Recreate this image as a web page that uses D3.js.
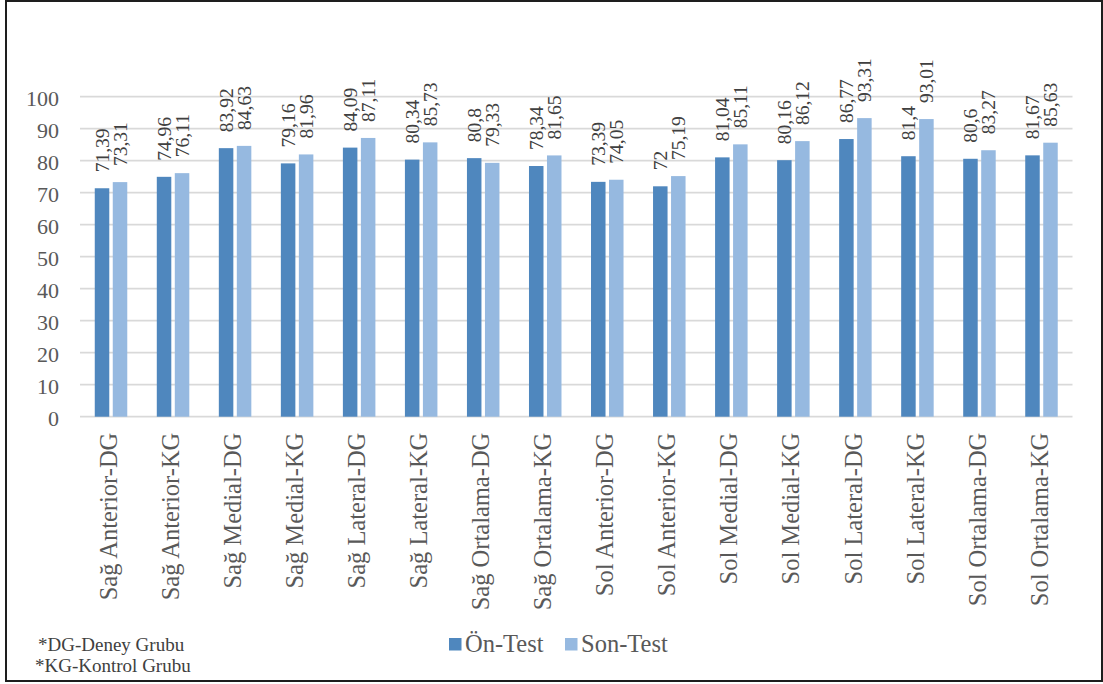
<!DOCTYPE html>
<html>
<head>
<meta charset="utf-8">
<script src="https://cdn.jsdelivr.net/npm/d3@7"></script>
<style>
  html, body { margin: 0; padding: 0; background: #fff; }
  svg { display: block; }
  text { font-family: "Liberation Serif", "Times New Roman", serif; }
</style>
</head>
<body>
<svg id="chart" width="1103" height="684"></svg>
<script>
// Balance test scores per measurement and group
const categories = [
  "Sağ Anterior-DG", "Sağ Anterior-KG", "Sağ Medial-DG", "Sağ Medial-KG",
  "Sağ Lateral-DG", "Sağ Lateral-KG", "Sağ Ortalama-DG", "Sağ Ortalama-KG",
  "Sol Anterior-DG", "Sol Anterior-KG", "Sol Medial-DG", "Sol Medial-KG",
  "Sol Lateral-DG", "Sol Lateral-KG", "Sol Ortalama-DG", "Sol Ortalama-KG"
];
const seriesNames = ["Ön-Test", "Son-Test"];
const onTest  = [71.39, 74.96, 83.92, 79.16, 84.09, 80.34, 80.8, 78.34, 73.39, 72, 81.04, 80.16, 86.77, 81.4, 80.6, 81.67];
const sonTest = [73.31, 76.11, 84.63, 81.96, 87.11, 85.73, 79.33, 81.65, 74.05, 75.19, 85.11, 86.12, 93.31, 93.01, 83.27, 85.63];
const yTicks = [0, 10, 20, 30, 40, 50, 60, 70, 80, 90, 100];
const footnotes = ["*DG-Deney Grubu", "*KG-Kontrol Grubu"];

const colors = ["#4f87be", "#96b9e0"];
const series = [onTest, sonTest];
const serif = "Liberation Serif, Times New Roman, serif";

const svg = d3.select("#chart");

// outer frame
svg.append("rect")
  .attr("x", 6).attr("y", 1)
  .attr("width", 1096).attr("height", 680)
  .attr("fill", "none").attr("stroke", "#1e1e1e").attr("stroke-width", 2);

const plot = { left: 80, right: 1072.5, top: 96.7, bottom: 416.7 };

const y = d3.scaleLinear().domain([0, 100]).range([plot.bottom, plot.top]);

const x0 = d3.scaleBand()
  .domain(categories)
  .range([plot.left, plot.right])
  .paddingInner(0.476)
  .paddingOuter(0.238);

const x1 = d3.scaleBand()
  .domain(seriesNames)
  .range([0, x0.bandwidth()])
  .paddingInner(0.194)
  .paddingOuter(0);

// gridlines
svg.append("g")
  .selectAll("line")
  .data(yTicks)
  .join("line")
  .attr("x1", plot.left).attr("x2", plot.right)
  .attr("y1", d => y(d)).attr("y2", d => y(d))
  .attr("stroke", "#d9d9d9")
  .attr("stroke-width", 1.8);

// y axis labels
const yAxis = d3.axisLeft(y).tickValues(yTicks).tickSize(0).tickPadding(0);
svg.append("g")
  .attr("transform", `translate(59,0)`)
  .attr("font-family", serif)
  .call(yAxis)
  .call(g => g.select(".domain").remove())
  .call(g => g.selectAll("text")
    .attr("fill", "#595959")
    .attr("font-size", "22px")
    .attr("dy", "0.4em"));

// bars
const groups = svg.append("g")
  .selectAll("g")
  .data(categories)
  .join("g")
  .attr("transform", d => `translate(${x0(d)},0)`);

groups.selectAll("rect")
  .data((d, i) => seriesNames.map((s, k) => ({ s, v: series[k][i], k })))
  .join("rect")
  .attr("x", d => x1(d.s))
  .attr("y", d => y(d.v))
  .attr("width", x1.bandwidth())
  .attr("height", d => y(0) - y(d.v))
  .attr("fill", d => colors[d.k]);

// value labels, rotated above each bar
groups.selectAll("text.val")
  .data((d, i) => seriesNames.map((s, k) => ({ s, v: series[k][i], k })))
  .join("text")
  .attr("class", "val")
  .attr("transform", d => `translate(${x1(d.s) + x1.bandwidth() / 2},${y(d.v) - 16}) rotate(-90)`)
  .attr("dy", "0.35em")
  .attr("text-anchor", "start")
  .attr("font-size", "19.5px")
  .attr("fill", "#404040")
  .text(d => String(d.v).replace(".", ","));

// x axis category labels
const xAxis = d3.axisBottom(x0).tickSize(0).tickPadding(0);
svg.append("g")
  .attr("transform", `translate(0,${plot.bottom})`)
  .attr("font-family", serif)
  .call(xAxis)
  .call(g => g.select(".domain").remove())
  .call(g => g.selectAll("text")
    .attr("fill", "#595959")
    .attr("font-size", "24.5px")
    .attr("text-anchor", "end")
    .attr("transform", "translate(0,16) rotate(-90)")
    .attr("x", 0).attr("y", 0)
    .attr("dy", "0.25em"));

// legend
const legendX = [449, 565];
const legend = svg.append("g")
  .selectAll("g")
  .data(seriesNames)
  .join("g")
  .attr("transform", (d, i) => `translate(${legendX[i]},638)`);
legend.append("rect")
  .attr("width", 12.5).attr("height", 12.5)
  .attr("fill", (d, i) => colors[i]);
legend.append("text")
  .attr("x", 16).attr("y", 13.5)
  .attr("font-size", "24.5px")
  .attr("fill", "#595959")
  .text(d => d);

// footnotes
svg.append("g")
  .selectAll("text")
  .data(footnotes)
  .join("text")
  .attr("x", (d, i) => i === 0 ? 38 : 35)
  .attr("y", (d, i) => 651 + i * 21)
  .attr("font-size", "19px")
  .attr("fill", "#404040")
  .text(d => d);
</script>
</body>
</html>
